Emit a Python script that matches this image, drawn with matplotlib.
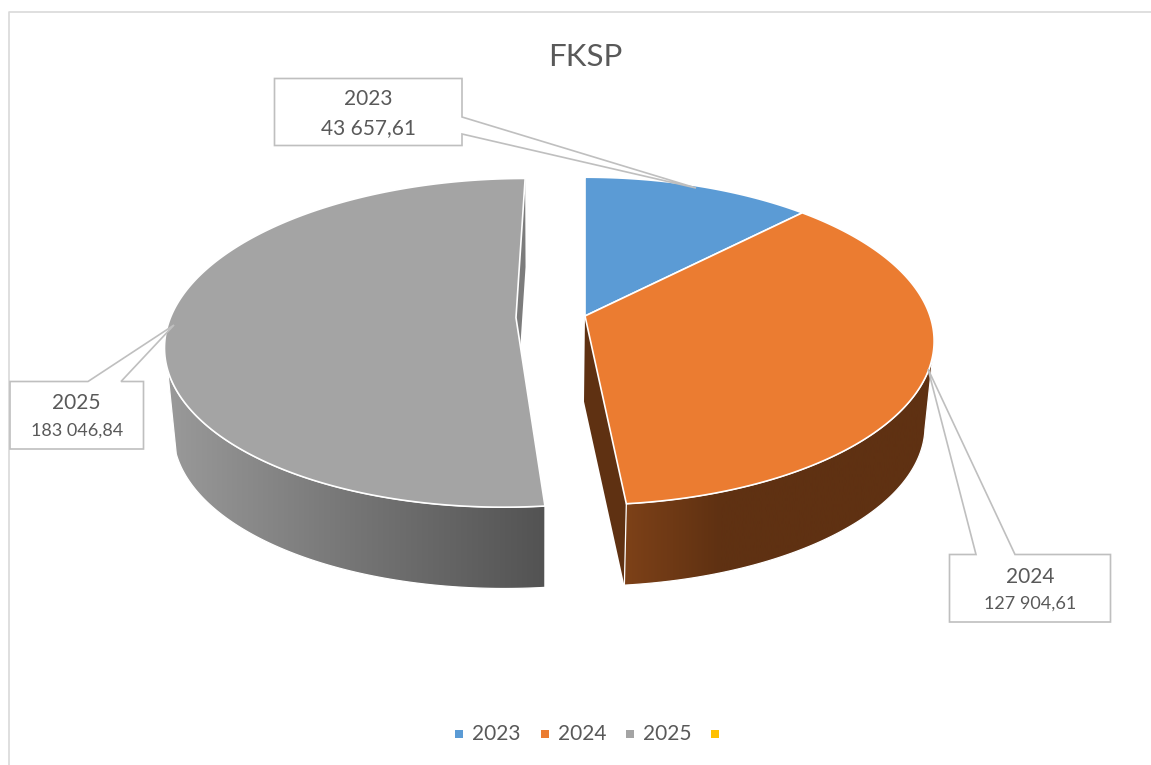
import numpy as np
import matplotlib
matplotlib.use("Agg")
import matplotlib.pyplot as plt
from matplotlib.patches import Polygon, Rectangle
from matplotlib.colors import LinearSegmentedColormap

plt.rcParams['font.family'] = ['Lato', 'DejaVu Sans']

# data
years = ['2023', '2024', '2025', '']
values = [43657.61, 127904.61, 183046.84]
colors = ['#5B9BD5', '#EB7C31', '#A4A4A4', '#FFC000']
explode = [0, 0, 0.2]

# side shading per slice: visible angle range, gradient x stops, gradient colours
side_range = [None, (100, None), (None, 252)]
side_x = [None, [625, 720, 935], [165, 350, 545]]
side_colors = [None, ['#7D4118', '#5F3112', '#5F3112'], ['#9A9A9A', '#767676', '#535353']]
wall_colors = [None, '#5F3112', '#7C7C7C']

TEXT = '#595959'
LINE = '#BFBFBF'

# perspective of the pie, in pixels
K = 0.153
TOP = dict(cx=585, cy=316, sx=345, sy=160)
BOTTOM = dict(cx=584, cy=401.5, sx=337, sy=156.5)


def project_xy(x, y, plane):
    d = 1 + K * y
    return np.column_stack([plane['cx'] + plane['sx'] * x / d, plane['cy'] - plane['sy'] * y / d])


def project(theta, plane, shift=(0, 0)):
    # theta in degrees, clockwise from 12 o'clock
    t = np.radians(theta)
    return project_xy(np.sin(t) + shift[0], np.cos(t) + shift[1], plane)


def gradient_side(ax, pts, x_stops, stop_colors):
    x0, x1 = x_stops[0], x_stops[-1]
    pos = [(x - x0) / (x1 - x0) for x in x_stops]
    cmap = LinearSegmentedColormap.from_list('side', list(zip(pos, stop_colors)))
    im = ax.imshow(np.linspace(0, 1, 512)[None, :], cmap=cmap, aspect='auto',
                   extent=(x0, x1, 765, 0), zorder=2, interpolation='bilinear')
    patch = Polygon(pts, closed=True, transform=ax.transData, fc='none', ec='none')
    ax.add_patch(patch)
    im.set_clip_path(patch)
    ax.add_patch(Polygon(pts, closed=True, fc='none', ec='white', lw=0.9, zorder=2.1))


def draw_slice(ax, i, start, end):
    mid = np.radians((start + end) / 2)
    shift = (explode[i] * np.sin(mid), explode[i] * np.cos(mid))
    apex = project_xy(shift[0], shift[1], TOP)
    low_apex = project_xy(shift[0], shift[1], BOTTOM)

    # wall of the cut that faces the viewer
    if wall_colors[i]:
        cut = np.array([end])
        ax.add_patch(Polygon(np.vstack([apex, project(cut, TOP, shift), project(cut, BOTTOM, shift), low_apex]),
                             closed=True, fc=wall_colors[i], ec='none', zorder=1.5))

    # outer side
    if side_range[i]:
        a = side_range[i][0] or start
        b = side_range[i][1] or end
        th = np.linspace(a, b, 200)
        pts = np.vstack([project(th, TOP, shift), project(th[::-1], BOTTOM, shift)])
        gradient_side(ax, pts, side_x[i], side_colors[i])

    # top face
    rim = project(np.linspace(start, end, 200), TOP, shift)
    ax.add_patch(Polygon(np.vstack([apex, rim]), closed=True, fc=colors[i], ec='white',
                         lw=1.2, zorder=3, joinstyle='round'))


def callout(ax, box, wedge, tip, side, lines, sizes, ys):
    x0, y0, x1, y1 = box
    if side == 'right':
        pts = [(x0, y0), (x1, y0), (x1, wedge[0]), tip, (x1, wedge[1]), (x1, y1), (x0, y1)]
    else:
        pts = [(x0, y0), (wedge[0], y0), tip, (wedge[1], y0), (x1, y0), (x1, y1), (x0, y1)]
    ax.add_patch(Polygon(pts, closed=True, fc='white', ec=LINE, lw=1.2, zorder=5, joinstyle='miter'))
    xc = (x0 + x1) / 2
    for s, fs, y in zip(lines, sizes, ys):
        ax.text(xc, y, s, ha='center', va='center', fontsize=fs, color=TEXT, zorder=6)


def fmt(v):
    return f"{v:,.2f}".replace(',', ' ').replace('.', ',')


def main():
    fig = plt.figure(figsize=(11.51, 7.65), dpi=100)
    ax = fig.add_axes([0, 0, 1, 1])
    ax.axis('off')

    # chart frame
    ax.plot([9.5, 9.5, 1151], [765, 11.5, 11.5], color='#D9D9D9', lw=1.2, zorder=1)

    ax.text(585, 57, 'FKSP', ha='center', va='center', fontsize=22.5, color=TEXT)

    total = sum(values)
    start = 0
    for i, v in enumerate(values):
        end = start + v / total * 360
        draw_slice(ax, i, start, end)
        start = end

    callout(ax, (274.5, 78.5, 462, 145.5), (117, 134), (696, 188), 'right',
            [years[0], fmt(values[0])], [15, 15], [99, 128.5])
    callout(ax, (949.5, 554.5, 1110.5, 622), (976, 1015), (928, 369), 'top',
            [years[1], fmt(values[1])], [15, 13], [577, 604])
    callout(ax, (10, 381.5, 143.5, 449), (88, 121), (174, 325), 'top',
            [years[2], fmt(values[2])], [15, 13], [403, 431])

    # legend
    for i, (name, c) in enumerate(zip(years, colors)):
        x = 459.5 + i * 85.2
        ax.add_patch(Rectangle((x - 4, 730), 8, 8, fc=c, ec='none', zorder=4))
        if name:
            ax.text(x + 13, 734, name, ha='left', va='center', fontsize=15, color=TEXT)

    ax.set_xlim(0, 1151)
    ax.set_ylim(765, 0)
    fig.savefig('out.png', dpi=100, facecolor='white')


if __name__ == "__main__":
    main()
